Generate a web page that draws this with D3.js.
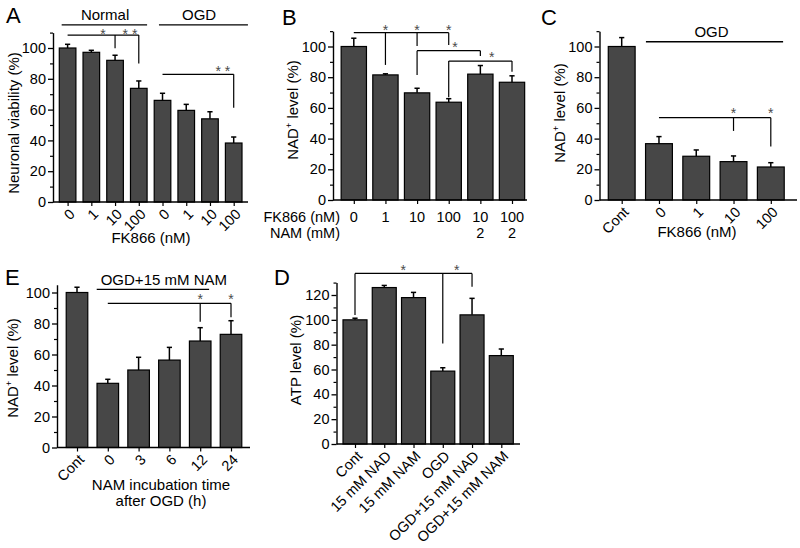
<!DOCTYPE html>
<html><head><meta charset="utf-8">
<script src="https://cdn.jsdelivr.net/npm/d3@7"></script>
<style>
body{margin:0;background:#fff}
svg{display:block}
text{font-family:"Liberation Sans",Arial,sans-serif}
.star{opacity:0.999}
</style>
</head><body>
<svg id="c" width="800" height="548"></svg>
<script>
// ---------- data ----------
const aCategories = ["0","1","10","100","0","1","10","100"];
const aValues = [100, 97.2, 92, 73.8, 66, 59.5, 54, 38.3];
const aErrors = [2.4, 1.3, 3.3, 4.8, 4.6, 3.9, 4.6, 3.9];

const bFK866 = ["0","1","10","100","10","100"];
const bNAM = ["","","","","2","2"];
const bValues = [100, 81.5, 69.8, 63.7, 82, 76.7];
const bErrors = [5.4, 0.7, 3.0, 2.3, 5.6, 4.2];

const cCategories = ["Cont","0","1","10","100"];
const cValues = [100, 36.7, 28.5, 25, 21.5];
const cErrors = [5.8, 4.6, 4.1, 3.7, 2.8];

const eCategories = ["Cont","0","3","6","12","24"];
const eValues = [100, 41.4, 50, 56.4, 68.7, 73];
const eErrors = [3.4, 2.6, 8.2, 8.2, 8.6, 8.8];

const dCategories = ["Cont","15 mM NAD","15 mM NAM","OGD","OGD+15 mM NAD","OGD+15 mM NAM"];
const dValues = [100, 126, 117.9, 58.7, 104, 71.2];
const dErrors = [1.3, 1.7, 4.2, 2.7, 13.3, 5.3];

// significance brackets: horizontal level (value), from/to bar index, drops [index, end value]
const aBrackets = [
  {from:0, to:3, level:108.4, drops:[[2,99.8],[3,90]]},
  {from:4, to:7, level:82.9, drops:[[7,61.2]]}
];
const aStars = [[1.49,111,"*"],[2.63,111,"* *"],[6.54,87,"* *"]];
const aGroups = [{label:"Normal", from:-0.25, to:3.35, center:1.58}, {label:"OGD", from:3.85, to:7.6, center:5.54}];

const bBrackets = [
  {from:0, to:3, level:109, drops:[[1,88],[2,100.3],[3,101]]},
  {from:2, to:4, level:97.3, drops:[[2,81.4],[4,93.8]]},
  {from:3, to:5, level:90.5, drops:[[3,67],[5,83.6]]}
];
const bStars = [[1,112.7,"*"],[2,112.7,"*"],[3,112.7,"*"],[3.2,101.6,"*"],[4.36,95.1,"*"]];

const cBrackets = [{from:1, to:4, level:53.6, drops:[[3,45],[4,34.8]]}];
const cStars = [[3,58.6,"*"],[4,58.6,"*"]];
const cGroups = [{label:"OGD", from:0.65, to:4.33, center:2.41}];

const eBrackets = [{from:1, to:5, level:93, drops:[[4,81.2],[5,84]]}];
const eStars = [[4,97.3,"*"],[5,97.3,"*"]];
const eGroups = [{label:"OGD+15 mM NAM", from:0.64, to:4.29, center:2.82}];

const dBrackets = [{from:0, to:4, level:137.4, drops:[[0,103.9],[3,81],[4,126.6]]}];
const dStars = [[1.65,142,"*"],[3.48,142,"*"]];

// ---------- drawing ----------
const svg = d3.select("#c");

function panel(cfg){
  const g = svg.append("g");
  const n = cfg.values.length;
  const xi = d3.scaleLinear().domain([0, n-1]).range([cfg.c0, cfg.c1]);
  const step = (cfg.c1 - cfg.c0)/(n-1);
  const bw = step*cfg.ratio;
  const y = d3.scaleLinear().domain([0, cfg.ref]).range([cfg.y0, cfg.yRef]);
  const yA = y.copy().domain([0, cfg.ymax]).range([y(0), y(cfg.ymax)]);

  // bars
  g.selectAll("rect.bar").data(cfg.values).join("rect")
    .attr("class","bar")
    .attr("x",(d,i)=>xi(i)-bw/2).attr("y",d=>y(d))
    .attr("width",bw).attr("height",d=>y(0)-y(d))
    .attr("fill","#474747").attr("stroke","#000").attr("stroke-width",1.2);

  // error bars
  const eb = g.selectAll("g.eb").data(cfg.values).join("g").attr("class","eb");
  eb.append("line")
    .attr("x1",(d,i)=>xi(i)).attr("x2",(d,i)=>xi(i))
    .attr("y1",d=>y(d)).attr("y2",(d,i)=>y(d+cfg.errors[i]))
    .attr("stroke","#000").attr("stroke-width",1.5);
  eb.append("line")
    .attr("x1",(d,i)=>xi(i)-2.6).attr("x2",(d,i)=>xi(i)+2.6)
    .attr("y1",(d,i)=>y(d+cfg.errors[i])).attr("y2",(d,i)=>y(d+cfg.errors[i]))
    .attr("stroke","#000").attr("stroke-width",1.5);

  // y axis
  const majors = d3.range(0, cfg.ymax+0.01, cfg.major);
  const minors = d3.range(cfg.major/2, cfg.ymax+0.01, cfg.major);
  const gy = g.append("g").attr("transform",`translate(${cfg.x0},0)`)
    .call(d3.axisLeft(yA).tickValues(majors).tickSize(5).tickSizeOuter(0).tickPadding(2).tickFormat(d3.format("d")));
  gy.attr("font-family",null).attr("font-size",null);
  gy.select(".domain").attr("stroke-width",1.4);
  gy.selectAll(".tick line").attr("stroke-width",1.3);
  gy.selectAll("text").attr("font-size","14.5px").attr("fill","#000");
  const gm = g.append("g").attr("transform",`translate(${cfg.x0},0)`)
    .call(d3.axisLeft(yA).tickValues(minors).tickSize(3).tickSizeOuter(0).tickFormat(""));
  gm.select(".domain").remove();
  gm.selectAll(".tick line").attr("stroke-width",1.2);

  // x axis
  g.append("line").attr("x1",cfg.x0).attr("x2",cfg.x1).attr("y1",y(0)).attr("y2",y(0))
    .attr("stroke","#000").attr("stroke-width",1.4);
  const gx = g.append("g").attr("transform",`translate(0,${y(0)})`)
    .call(d3.axisBottom(xi).tickValues(d3.range(n)).tickSize(4).tickSizeOuter(0).tickFormat(""));
  gx.select(".domain").remove();
  gx.selectAll(".tick line").attr("stroke-width",1.2);

  // x tick labels
  if (cfg.rotated){
    g.selectAll("text.xl").data(cfg.cats).join("text").attr("class","xl")
      .attr("transform",(d,i)=>`translate(${xi(i)+8},${y(0)+13}) rotate(-45)`)
      .attr("text-anchor","end").attr("font-size","14.5px").attr("fill","#000").text(d=>d);
  }

  // y axis title
  const yt = g.append("text")
    .attr("transform",`translate(${cfg.ytx},${cfg.yty}) rotate(-90)`)
    .attr("text-anchor","middle").attr("font-size","15px").attr("fill","#000");
  if (cfg.nad){
    yt.append("tspan").text("NAD");
    yt.append("tspan").attr("font-size","9px").attr("dy","-6").text("+");
    yt.append("tspan").attr("dy","6").text(" level (%)");
  } else yt.text(cfg.ytitle);

  // panel letter
  g.append("text").attr("x",cfg.lx).attr("y",cfg.ly).attr("font-size","22px").attr("fill","#000").text(cfg.letter);

  // brackets
  (cfg.brackets||[]).forEach(b=>{
    g.append("line").attr("x1",xi(b.from)).attr("x2",xi(b.to)).attr("y1",y(b.level)).attr("y2",y(b.level))
      .attr("stroke","#000").attr("stroke-width",1.2);
    b.drops.forEach(dp=>{
      g.append("line").attr("x1",xi(dp[0])).attr("x2",xi(dp[0])).attr("y1",y(b.level)).attr("y2",y(dp[1]))
        .attr("stroke","#000").attr("stroke-width",1.2);
    });
  });
  (cfg.stars||[]).forEach(s=>{
    g.append("text").attr("class","star").attr("x",xi(s[0])).attr("y",y(s[1])).attr("dy","0.55em")
      .attr("text-anchor","middle").attr("font-size","14px").attr("fill","#4a4a4a").text(s[2]);
  });
  (cfg.groups||[]).forEach(gr=>{
    g.append("line").attr("x1",xi(gr.from)).attr("x2",xi(gr.to)).attr("y1",y(cfg.groupLine)).attr("y2",y(cfg.groupLine))
      .attr("stroke","#000").attr("stroke-width",1.3);
    g.append("text").attr("x",xi(gr.center)).attr("y",y(cfg.groupText)).attr("text-anchor","middle")
      .attr("font-size","15px").attr("fill","#000").text(gr.label);
  });
  return {g, xi, y};
}

// Panel A
const pA = panel({values:aValues, errors:aErrors, cats:aCategories, rotated:true,
  x0:53, x1:248, c0:67.6, c1:233.7, ratio:0.7, y0:202, yRef:48, ref:100, ymax:110, major:20,
  ytitle:"Neuronal viability (%)", ytx:19, yty:123, letter:"A", lx:6, ly:23,
  brackets:aBrackets, stars:aStars, groups:aGroups, groupLine:115, groupText:118.2});
pA.g.append("text").attr("x",151).attr("y",243).attr("text-anchor","middle").attr("font-size","15px").attr("fill","#000").text("FK866 (nM)");

// Panel B
const pB = panel({values:bValues, errors:bErrors, cats:bFK866, rotated:false,
  x0:333, x1:527, c0:353.8, c1:512, ratio:0.8, y0:200, yRef:46.5, ref:100, ymax:110, major:20,
  nad:true, ytx:298, yty:110, letter:"B", lx:282, ly:25,
  brackets:bBrackets, stars:bStars});
pB.g.selectAll("text.r1").data(bFK866).join("text").attr("class","r1")
  .attr("x",(d,i)=>pB.xi(i)).attr("y",222).attr("text-anchor","middle").attr("font-size","14.5px").attr("fill","#000").text(d=>d);
pB.g.selectAll("text.r2").data(bNAM).join("text").attr("class","r2")
  .attr("x",(d,i)=>pB.xi(i)).attr("y",238).attr("text-anchor","middle").attr("font-size","14.5px").attr("fill","#000").text(d=>d);
pB.g.append("text").attr("x",340).attr("y",222).attr("text-anchor","end").attr("font-size","14.5px").attr("fill","#000").text("FK866 (nM)");
pB.g.append("text").attr("x",340).attr("y",238).attr("text-anchor","end").attr("font-size","14.5px").attr("fill","#000").text("NAM (mM)");

// Panel C
const pC = panel({values:cValues, errors:cErrors, cats:cCategories, rotated:true,
  x0:599.5, x1:797, c0:621.7, c1:770.8, ratio:0.72, y0:200, yRef:46.5, ref:100, ymax:110, major:20,
  nad:true, ytx:565, yty:113, letter:"C", lx:541, ly:25,
  brackets:cBrackets, stars:cStars, groups:cGroups, groupLine:103.1, groupText:106.2});
pC.g.append("text").attr("x",697).attr("y",237).attr("text-anchor","middle").attr("font-size","15px").attr("fill","#000").text("FK866 (nM)");

// Panel E
const pE = panel({values:eValues, errors:eErrors, cats:eCategories, rotated:true,
  x0:57, x1:250, c0:77, c1:231, ratio:0.7, y0:447.5, yRef:292.5, ref:100, ymax:105, major:20,
  nad:true, ytx:18, yty:368, letter:"E", lx:5, ly:285,
  brackets:eBrackets, stars:eStars, groups:eGroups, groupLine:102, groupText:104.8});
pE.g.append("text").attr("x",161).attr("y",490).attr("text-anchor","middle").attr("font-size","15px").attr("fill","#000").text("NAM incubation time");
pE.g.append("text").attr("x",161).attr("y",506).attr("text-anchor","middle").attr("font-size","15px").attr("fill","#000").text("after OGD (h)");

// Panel D
const pD = panel({values:dValues, errors:dErrors, cats:dCategories, rotated:true,
  x0:336.5, x1:520, c0:355, c1:501.3, ratio:0.82, y0:444, yRef:295, ref:120, ymax:130, major:20,
  ytitle:"ATP level (%)", ytx:301, yty:360, letter:"D", lx:274, ly:285,
  brackets:dBrackets, stars:dStars});
</script>
</body></html>
